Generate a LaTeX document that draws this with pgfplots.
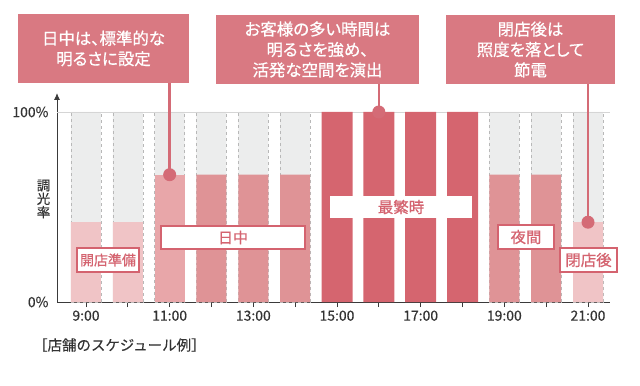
\documentclass[border=0pt]{standalone}
\usepackage{fontspec}
\setmainfont{Noto Sans CJK JP}[FakeBold=0.25]
\newfontfamily\medfont{Noto Sans CJK JP}[FakeBold=0.7]
\newfontfamily\calfont{Noto Sans CJK JP}[FakeBold=0.7, RawFeature=+palt]
\usepackage{pgfplots}
\pgfplotsset{compat=1.18}
\usetikzlibrary{arrows.meta}
\definecolor{bgc}{HTML}{ECEDED}
\definecolor{dashc}{HTML}{B8B8B8}
\definecolor{gridc}{HTML}{D5D5D5}
\definecolor{lightc}{HTML}{F0C4C6}
\definecolor{midonec}{HTML}{E8A6A9}
\definecolor{midc}{HTML}{DF9396}
\definecolor{darkc}{HTML}{D5656F}
\definecolor{callc}{HTML}{D46B76}
\definecolor{boxc}{HTML}{D97982}
\definecolor{labelc}{HTML}{D4636F}
\definecolor{axisc}{HTML}{3A3A3A}
\definecolor{labc}{HTML}{333333}
\begin{document}
\begin{tikzpicture}[x=1bp,y=1bp]
\path[use as bounding box] (0,0) rectangle (640,385);
\begin{axis}[
  at={(57bp,83bp)}, anchor=south west,
  scale only axis, width=553bp, height=209bp,
  xmin=8.307, xmax=21.526, ymin=0, ymax=110,
  axis x line=bottom, axis y line=left,
  x axis line style={-, draw=axisc, line width=0.9bp},
  y axis line style={-{Latex[length=7bp,width=6bp]}, draw=axisc, line width=0.9bp},
  xtick={9,...,21},
  xticklabels={9:00,,11:00,,13:00,,15:00,,17:00,,19:00,,21:00},
  ytick={0,100}, yticklabels={0\%,100\%},
  tick align=outside, major tick length=5bp,
  xtick style={draw=axisc, line width=0.8bp},
  ytick style={draw=none},
  tick label style={font=\fontsize{14}{14}\selectfont, text=labc},
  /pgf/number format/assume math mode=true,
  clip=false,
]
\addplot[ybar, bar shift=0pt, bar width=30bp, fill=bgc, draw=dashc, dashed, line width=0.6bp]
  coordinates {(9,100)(10,100)(11,100)(12,100)(13,100)(14,100)(19,100)(20,100)(21,100)};
\draw[gridc, line width=0.8bp] (axis cs:8.307,100) -- (axis cs:21.526,100);
\addplot[ybar, bar shift=0pt, bar width=30bp, fill=lightc, draw=none]
  coordinates {(9,42)(10,42)(21,42)};
\addplot[ybar, bar shift=0pt, bar width=30bp, fill=midonec, draw=none]
  coordinates {(11,67)};
\addplot[ybar, bar shift=0pt, bar width=30bp, fill=midc, draw=none]
  coordinates {(12,67)(13,67)(14,67)(19,67)(20,67)};
\addplot[ybar, bar shift=0pt, bar width=31bp, fill=darkc, draw=none]
  coordinates {(15,100)(16,100)(17,100)(18,100)};
\draw[callc, line width=2.5bp] (axis cs:11,67) -- (axis cs:11,115.5);
\fill[callc] (axis cs:11,67) circle[radius=6.5bp];
\draw[callc, line width=2.5bp] (axis cs:16,100) -- (axis cs:16,115);
\fill[callc] (axis cs:16,100) circle[radius=6.5bp];
\draw[callc, line width=2.5bp] (axis cs:21,42) -- (axis cs:21,115);
\fill[callc] (axis cs:21,42) circle[radius=6.5bp];
\end{axis}
% callout boxes
\tikzset{callout/.style={fill=boxc, text=white, align=center, inner sep=0pt,
  minimum height=69bp, font=\calfont\fontsize{16.5}{20.5}\selectfont},
  lab/.style={fill=white, draw=labelc, line width=2.5bp, text=labelc, inner sep=0pt,
  font=\medfont\fontsize{14}{14}\selectfont}}
\node[callout, minimum width=171bp] at (103.5,336.5) {日中は、標準的な\\明るさに設定};
\node[callout, minimum width=203bp] at (317.5,335.5) {お客様の多い時間は\\明るさを強め、\\活発な空間を演出};
\node[callout, minimum width=169bp] at (530.5,335.5) {閉店後は\\照度を落として\\節電};
% in-chart labels
\node[lab, minimum width=62bp, minimum height=24bp] at (108,125) {開店準備};
\node[lab, minimum width=144bp, minimum height=23bp, font=\medfont\fontsize{15}{15}\selectfont] at (233,147.5) {日中};
\node[lab, draw=none, minimum width=142bp, minimum height=22bp, font=\medfont\fontsize{15.5}{15.5}\selectfont] at (401,178) {最繁時};
\node[lab, minimum width=56bp, minimum height=24bp, font=\medfont\fontsize{15.5}{15.5}\selectfont] at (526,148) {夜間};
\node[lab, minimum width=57bp, minimum height=24bp, font=\medfont\fontsize{15.5}{15.5}\selectfont] at (588.5,125) {閉店後};
% y label
\node[align=center, text=labc, font=\fontsize{13.5}{13.5}\selectfont, inner sep=0pt] at (43.5,186) {調\\光\\率};
% caption
\node[anchor=west, text=labc, font=\fontsize{14.5}{14.5}\selectfont, inner sep=0pt] at (33,40) {［店舗のスケジュール例］};
\end{tikzpicture}
\end{document}
